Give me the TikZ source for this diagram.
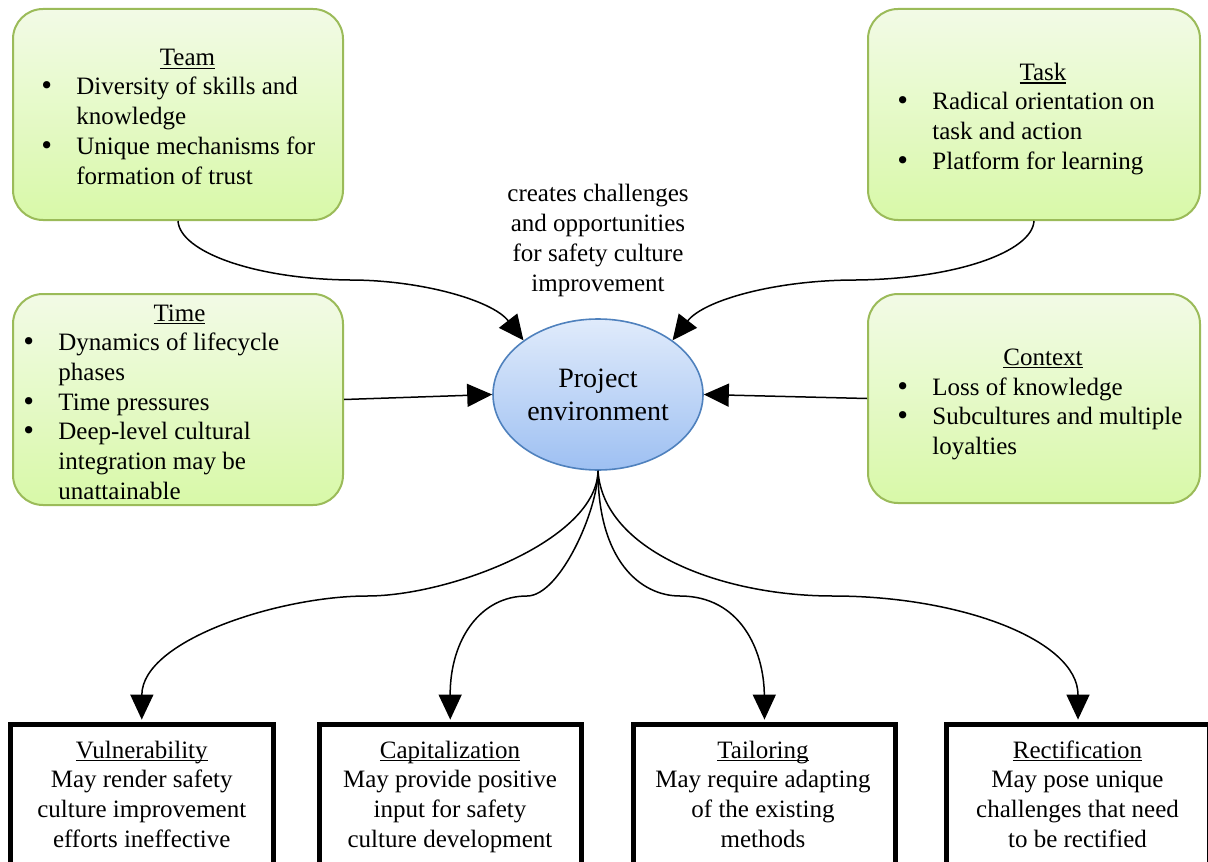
\documentclass[tikz,border=0pt]{standalone}
\usepackage{fontspec}
\setmainfont{Liberation Serif}
\newfontfamily\bulfont{DejaVu Sans}
\usetikzlibrary{arrows.meta,shapes.geometric}

\definecolor{greenline}{RGB}{155,187,89}
\definecolor{greentop}{RGB}{242,250,230}
\definecolor{greenbot}{RGB}{216,249,168}
\definecolor{blueline}{RGB}{79,129,189}
\definecolor{bluetop}{RGB}{224,235,251}
\definecolor{bluebot}{RGB}{158,192,242}

% underlined heading with a fixed rule position
\newsavebox\hdbox
\newcommand\bhead[1]{\sbox\hdbox{#1}\rlap{\rule[-1.7pt]{\wd\hdbox}{0.8pt}}\usebox\hdbox}
% list bullet
\newcommand\bpt{\makebox[6.1pt][c]{\bulfont •}}
% bullet list: bullet column, gap, item column
\newenvironment{blist}{\begin{tabular}[t]{@{}l@{\hspace{11.75pt}}l@{}}}{\end{tabular}}

\begin{document}
\begin{tikzpicture}[x=0.5pt,y=-0.5pt,
  txt/.style={inner sep=0pt, font=\fontsize{12.5}{14.85}\selectfont},
  greenbox/.style={draw=greenline, line width=1pt, rounded corners=15pt,
    top color=greentop, bottom color=greenbot, inner sep=0pt},
  envshape/.style={ellipse, draw=blueline, line width=0.8pt,
    top color=bluetop, bottom color=bluebot, inner sep=0pt,
    minimum width=105pt, minimum height=75.5pt, align=center,
    font=\fontsize{14}{16.5}\selectfont},
  outbox/.style={draw=black, line width=2.5pt, fill=white, inner sep=0pt,
    minimum width=131.25pt, minimum height=87.75pt},
  conn/.style={line width=0.75pt, -{Triangle[length=12.5pt,width=11.5pt]}},
  connb/.style={conn, shorten >=1.2pt}]

\useasboundingbox (0,0) rectangle (1208,861);
\clip (0,0) rectangle (1208,861);

% ---- factor boxes ----
\node[greenbox, minimum width=165pt, minimum height=105.5pt] (team) at (178,114.5) {};
\node[greenbox, minimum width=166pt, minimum height=105.5pt] (task) at (1034,114.5) {};
\node[greenbox, minimum width=165pt, minimum height=105.5pt] (time) at (178,399.5) {};
\node[greenbox, minimum width=166pt, minimum height=104.5pt] (ctx) at (1034,398.5) {};

\node[txt, anchor=base] (teamh) at (187.5,66) {\bhead{Team}};
\node[txt, anchor=base west] (teaml) at (40.3,95) {\begin{blist}
  \bpt & Diversity of skills and\\ & knowledge\\
  \bpt & Unique mechanisms for\\ & formation of trust\end{blist}};

\node[txt, anchor=base] (taskh) at (1043,80.5) {\bhead{Task}};
\node[txt, anchor=base west] (taskl) at (896.3,110) {\begin{blist}
  \bpt & Radical orientation on\\ & task and action\\
  \bpt & Platform for learning\end{blist}};

\node[txt, anchor=base] (timeh) at (179.5,321) {\bhead{Time}};
\node[txt, anchor=base west] (timel) at (22.3,350.7) {\begin{blist}
  \bpt & Dynamics of lifecycle\\ & phases\\
  \bpt & Time pressures\\
  \bpt & Deep-level cultural\\ & integration may be\\ & unattainable\end{blist}};

\node[txt, anchor=base] (ctxh) at (1043,365) {\bhead{Context}};
\node[txt, anchor=base west] (ctxl) at (896.3,395) {\begin{blist}
  \bpt & Loss of knowledge\\
  \bpt & Subcultures and multiple\\ & loyalties\end{blist}};

% ---- central node and its caption ----
\node[envshape] (env) at (598,394.5) {Project\\environment};
\node[txt, anchor=base] (lbl) at (598,202) {\begin{tabular}[t]{@{}c@{}}
  creates challenges\\ and opportunities\\ for safety culture\\ improvement\end{tabular}};

% ---- outcome boxes ----
\node[outbox] (vul) at (141.75,812.25) {};
\node[outbox] (cap) at (450.25,812.25) {};
\node[outbox] (tail) at (764.5,812.25) {};
\node[outbox] (rect) at (1078,812.25) {};

\node[txt, anchor=base] (vult) at (141.75,758) {\begin{tabular}[t]{@{}c@{}}
  \bhead{Vulnerability}\\ May render safety\\ culture improvement\\ efforts ineffective\end{tabular}};
\node[txt, anchor=base] (capt) at (450,758) {\begin{tabular}[t]{@{}c@{}}
  \bhead{Capitalization}\\ May provide positive\\ input for safety\\ culture development\end{tabular}};
\node[txt, anchor=base] (tailt) at (763,758) {\begin{tabular}[t]{@{}c@{}}
  \bhead{Tailoring}\\ May require adapting\\ of the existing\\ methods\end{tabular}};
\node[txt, anchor=base] (rectt) at (1077.5,758) {\begin{tabular}[t]{@{}c@{}}
  \bhead{Rectification}\\ May pose unique\\ challenges that need\\ to be rectified\end{tabular}};

% ---- incoming connectors ----
\draw[conn] (team.south) .. controls (180,252) and (255,279) .. (350,280)
  .. controls (420,280) and (492,300) .. (env.144);
\draw[conn] (task.south) .. controls (1032,252) and (955,279) .. (856,280)
  .. controls (776,280) and (704,300) .. (env.36);
\draw[conn] (time.east) -- (env.west);
\draw[conn] (ctx.west) -- (env.east);

% ---- outgoing connectors ----
\draw[connb] (env.south) .. controls (597,540) and (450,596) .. (367,596)
  .. controls (280,596) and (142,640) .. (vul.north);
\draw[connb] (env.south) .. controls (598,510) and (560,596) .. (527,596)
  .. controls (480,596) and (450,640) .. (cap.north);
\draw[connb] (env.south) .. controls (598,560) and (640,596) .. (680,596)
  .. controls (740,596) and (764,650) .. (tail.north);
\draw[connb] (env.south) .. controls (603,550) and (720,596) .. (833,596)
  .. controls (960,596) and (1078,640) .. (rect.north);
\end{tikzpicture}
\end{document}
